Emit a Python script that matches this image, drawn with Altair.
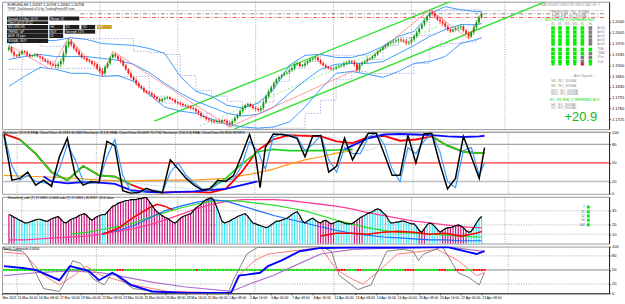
import json
import altair as alt
import pandas as pd

FONT = "Liberation Sans"
W = 610
XMIN, XMAX = -0.75, 229.18

# ===================== DATA =====================
# EURUSD H4 closes, bar 0 = 12 Mar 04:00 ... bar 182 = 23 Apr 12:00
first_open = 1.1950
close = [
    1.1958, 1.1942, 1.1932, 1.1929, 1.1938, 1.1945, 1.1942, 1.1935, 1.1929, 1.1932,
    1.1935, 1.1929, 1.1925, 1.1919, 1.1913, 1.1909, 1.1903, 1.1900, 1.1897, 1.1903,
    1.1913, 1.1938, 1.1964, 1.1977, 1.1967, 1.1954, 1.1945, 1.1935, 1.1925, 1.1922,
    1.1916, 1.1913, 1.1906, 1.1903, 1.1890, 1.1881, 1.1874, 1.1894, 1.1906, 1.1925,
    1.1935, 1.1929, 1.1919, 1.1913, 1.1900, 1.1887, 1.1874, 1.1861, 1.1852, 1.1842,
    1.1832, 1.1826, 1.1816, 1.1813, 1.1810, 1.1803, 1.1797, 1.1791, 1.1784, 1.1791,
    1.1794, 1.1797, 1.1791, 1.1788, 1.1781, 1.1778, 1.1775, 1.1771, 1.1768, 1.1765,
    1.1762, 1.1759, 1.1752, 1.1746, 1.1736, 1.1733, 1.1726, 1.1723, 1.1720, 1.1717,
    1.1720, 1.1717, 1.1723, 1.1720, 1.1714, 1.1710, 1.1720, 1.1730, 1.1739, 1.1752,
    1.1762, 1.1771, 1.1775, 1.1768, 1.1762, 1.1759, 1.1755, 1.1762, 1.1781, 1.1800,
    1.1816, 1.1829, 1.1842, 1.1855, 1.1861, 1.1868, 1.1874, 1.1877, 1.1884, 1.1890,
    1.1903, 1.1906, 1.1897, 1.1900, 1.1906, 1.1913, 1.1919, 1.1922, 1.1925, 1.1916,
    1.1906, 1.1900, 1.1894, 1.1890, 1.1887, 1.1890, 1.1894, 1.1897, 1.1900, 1.1906,
    1.1909, 1.1913, 1.1909, 1.1903, 1.1884, 1.1903, 1.1909, 1.1913, 1.1919, 1.1922,
    1.1929, 1.1935, 1.1945, 1.1951, 1.1958, 1.1964, 1.1971, 1.1974, 1.1977, 1.1980,
    1.1983, 1.1980, 1.1977, 1.1971, 1.1974, 1.1983, 1.1993, 1.2006, 1.2019, 1.2031,
    1.2044, 1.2057, 1.2070, 1.2067, 1.2057, 1.2047, 1.2041, 1.2035, 1.2025, 1.2015,
    1.2009, 1.2015, 1.2019, 1.2022, 1.2025, 1.2012, 1.2003, 1.1993, 1.2006, 1.2022,
    1.2038, 1.2054, 1.2067,
]
wick_pips = [
    6, 5, 7, 4, 6, 5, 4, 6, 5, 3, 5, 4, 6, 5, 4, 7, 5, 4, 6, 8,
    9, 10, 12, 9, 7, 6, 5, 6, 4, 5, 6, 5, 4, 7, 6, 8, 9, 7, 6, 5,
    4, 6, 5, 7, 6, 5, 4, 6, 5, 7, 5, 4, 6, 5, 4, 5, 6, 4, 5, 6,
    4, 5, 3, 4, 5, 4, 6, 5, 4, 5, 6, 4, 5, 6, 5, 4, 5, 6, 4, 5,
    4, 6, 5, 4, 7, 8, 6, 7, 5, 6, 7, 5, 6, 4, 5, 6, 5, 7, 8, 6,
    7, 6, 5, 4, 6, 5, 4, 5, 6, 5, 7, 6, 5, 4, 6, 5, 4, 5, 6, 5,
    4, 5, 6, 4, 5, 4, 6, 5, 4, 7, 5, 6, 4, 8, 6, 5, 4, 5, 6, 4,
    5, 6, 5, 4, 5, 6, 4, 5, 6, 5, 4, 6, 5, 7, 6, 8, 7, 6, 5, 4,
    6, 5, 4, 7, 6, 5, 8, 9, 7, 6, 5, 4, 6, 7, 8, 6, 5, 7, 6, 8,
    7, 6, 5,
]

price_ticks = [1.2040, 1.2005, 1.1970, 1.1935, 1.1900, 1.1865, 1.1830, 1.1795, 1.1760, 1.1725]
week_lines = [5, 35, 65, 95, 125, 155, 191]
xlab_pos = [-0.75, 5, 13, 21, 29, 37, 45, 53, 61, 69, 77, 85, 93, 101, 109, 117,
            125, 133, 141, 149, 157, 165, 173, 181]
xlab_txt = ["Mar 2021", "15 Mar 00:00", "16 Mar 08:00", "17 Mar 16:00", "19 Mar 00:00",
            "22 Mar 08:00", "23 Mar 16:00", "25 Mar 00:00", "26 Mar 08:00", "29 Mar 16:00",
            "31 Mar 00:00", "1 Apr 08:00", "2 Apr 16:00", "6 Apr 00:00", "7 Apr 08:00",
            "8 Apr 16:00", "12 Apr 00:00", "13 Apr 08:00", "14 Apr 16:00", "16 Apr 00:00",
            "19 Apr 08:00", "20 Apr 16:00", "22 Apr 00:00", "23 Apr 08:00"]

s6 = [0, 6, 12, 18, 24, 30, 36, 42, 48, 54, 60, 66, 72, 78, 84, 90, 96, 102, 108, 114,
      120, 126, 132, 138, 144, 150, 156, 162, 168, 174, 180, 182]
s3 = [0, 3, 6, 9, 12, 15, 18, 21, 24, 27, 30, 33, 36, 39, 42, 45, 48, 51, 54, 57,
      60, 63, 66, 69, 72, 75, 78, 81, 84, 87, 90, 93, 96, 99, 102, 105, 108, 111, 114, 117,
      120, 123, 126, 129, 132, 135, 138, 141, 144, 147, 150, 153, 156, 159, 162, 165, 168, 171, 174, 177,
      180, 182]

bb_up = [1.1970, 1.1977, 1.1980, 1.1980, 1.1989, 1.1983, 1.1970, 1.1967, 1.1964, 1.1954,
         1.1938, 1.1864, 1.1816, 1.1800, 1.1771, 1.1762, 1.1778, 1.1823, 1.1900, 1.1932,
         1.1935, 1.1925, 1.1925, 1.1938, 1.1961, 1.1993, 1.2009, 1.2066, 1.2089, 1.2079,
         1.2073, 1.2073]
bb_mid = [1.1919, 1.1928, 1.1935, 1.1928, 1.1928, 1.1928, 1.1922, 1.1916, 1.1903, 1.1877,
          1.1842, 1.1810, 1.1784, 1.1765, 1.1745, 1.1736, 1.1742, 1.1765, 1.1810, 1.1851,
          1.1887, 1.1903, 1.1906, 1.1906, 1.1912, 1.1938, 1.1964, 1.1993, 1.2015, 1.2031,
          1.2031, 1.2034]
bb_low = [1.1832, 1.1864, 1.1893, 1.1887, 1.1874, 1.1874, 1.1864, 1.1867, 1.1848, 1.1806,
          1.1765, 1.1752, 1.1745, 1.1726, 1.1710, 1.1701, 1.1697, 1.1701, 1.1717, 1.1765,
          1.1823, 1.1874, 1.1880, 1.1871, 1.1861, 1.1880, 1.1906, 1.1912, 1.1928, 1.1970,
          1.1983, 1.1989]
dc_up = [1.1983, 1.1977, 1.1961, 1.1961, 1.1986, 1.1986, 1.1986, 1.1986, 1.1945, 1.1941,
         1.1935, 1.1867, 1.1819, 1.1800, 1.1784, 1.1768, 1.1781, 1.1848, 1.1890, 1.1912,
         1.1932, 1.1932, 1.1932, 1.1919, 1.1964, 1.1989, 1.1996, 1.2076, 1.2079, 1.2079,
         1.2079, 1.2079]
dc_low = [1.1887, 1.1887, 1.1912, 1.1890, 1.1890, 1.1890, 1.1864, 1.1864, 1.1864, 1.1800,
          1.1778, 1.1768, 1.1745, 1.1713, 1.1701, 1.1697, 1.1697, 1.1697, 1.1697, 1.1745,
          1.1787, 1.1855, 1.1880, 1.1874, 1.1874, 1.1874, 1.1906, 1.1961, 1.1970, 1.1975,
          1.1985, 1.1985]
zz_i = [0, 16, 23, 36, 40, 85, 134, 162, 177, 182]
zz_p = [1.1964, 1.1887, 1.1989, 1.1867, 1.1945, 1.1701, 1.1887, 1.2079, 1.1986, 1.2070]
# channel lines: upper, lower, middle (start bar, start price, end bar, end price)
ch_i0 = [56, 86.7, 73.5]
ch_p0 = [1.1720, 1.1694, 1.1704]
ch_i1 = [170, 206.6, 165.1]
ch_p1 = [1.2105, 1.2105, 1.2025]
level_p = [1.2076, 1.2066, 1.2054]
level_from = [-0.75, 27.5, 27.5]

# Stochastic panel (0-100)
black_i = [0, 3, 6, 9, 12, 15, 18, 21, 24, 27, 30, 33, 36, 39, 42, 45, 48, 51, 54, 57,
           60, 63, 66, 69, 72, 75, 78, 81, 84, 87, 90, 93, 95, 97, 99, 102, 105, 108, 111, 114,
           117, 120, 123, 126, 129, 132, 135, 138, 141, 144, 147, 150, 153, 156, 159, 162, 165, 168, 171, 174,
           177, 180, 182]
black_v = [96, 22, 25, 35, 14, 22, 12, 60, 90, 30, 14, 20, 18, 85, 78, 5, 1, 2, 9, 4,
           2, 55, 40, 25, 14, 6, 8, 22, 20, 30, 62, 96, 70, 10, 75, 97, 96, 94, 90, 60,
           94, 94, 35, 45, 90, 55, 78, 98, 98, 65, 30, 30, 95, 50, 97, 98, 50, 8, 25, 93,
           60, 25, 75]
lblue_v = [98, 45, 22, 30, 20, 18, 15, 40, 80, 55, 20, 17, 20, 60, 88, 30, 4, 2, 6, 6,
           3, 35, 50, 30, 18, 8, 6, 16, 22, 24, 45, 85, 70, 40, 92, 97, 95, 92, 70, 80,
           95, 55, 35, 75, 65, 65, 92, 98, 80, 40, 20, 75, 65, 85, 97, 70, 20, 10, 70, 75,
           30, 50]
slow_v = [97, 88, 65, 35, 22, 45, 30, 28, 15, 5, 2, 3, 3, 2, 8, 35, 70, 88, 95, 94,
          93, 85, 82, 92, 94, 86, 88, 93, 78, 68, 66, 66]
blueA_i = [15, 18, 24, 30, 36, 42, 48, 54, 60, 66, 72, 78, 84, 90, 96]
blueA_v = [28, 20, 17, 19, 18, 16, 6, 3, 2, 3, 4, 6, 8, 14, 20]
greenB_i = [78, 84, 90, 96, 102, 108, 114, 120, 126, 132]
greenB_v = [10, 25, 48, 68, 72, 70, 70, 70, 71, 72]
blueC_i = [129, 132, 138, 144, 150, 156, 162, 168, 174, 180, 182]
blueC_v = [72, 78, 90, 96, 97, 96, 95, 93, 92, 93, 94]
orange_i = [0, 12, 24, 36, 48, 60, 72, 84, 96, 102, 108, 114, 120, 126, 132]
orange_v = [30, 28, 26, 22, 21, 22, 22, 25, 34, 40, 48, 55, 60, 66, 70]
dotted_v = [98, 88, 65, 40, 20, 22, 25, 20, 18, 15, 12, 10, 8, 6, 10, 30, 55, 82, 92, 96,
            94, 90, 72, 70, 80, 92, 95, 92, 85, 78, 68, 65]

# ADX histogram panel
hist_v = [31, 30, 28, 27, 25, 24, 22, 22, 23, 24, 25, 26, 26, 25, 24, 24, 26, 27, 28, 29,
          26, 23, 22, 24, 26, 27, 28, 30, 31, 32, 30, 27, 25, 27, 29, 30, 31, 31, 34, 37,
          40, 41, 43, 44, 45, 46, 46, 47, 47, 47, 48, 48, 49, 49, 45, 41, 37, 34, 32, 30,
          28, 27, 25, 23, 22, 24, 27, 29, 30, 31, 32, 35, 38, 40, 42, 45, 47, 48, 49, 46,
          39, 32, 24, 22, 23, 24, 26, 27, 29, 30, 31, 32, 29, 25, 22, 21, 20, 19, 18, 17,
          18, 20, 22, 24, 24, 25, 26, 27, 29, 31, 33, 34, 30, 24, 22, 24, 26, 27, 25, 23,
          22, 24, 25, 23, 21, 22, 23, 24, 23, 22, 21, 21, 21, 23, 25, 27, 29, 30, 32, 33,
          34, 36, 37, 36, 33, 31, 26, 22, 22, 23, 23, 24, 24, 23, 22, 21, 21, 18, 14, 12,
          16, 20, 22, 21, 18, 15, 12, 14, 16, 17, 17, 18, 19, 20, 19, 17, 14, 12, 13, 17,
          22, 26, 29]
hist_runs = [(3, "m"), (13, "c"), (20, "m"), (2, "c"), (42, "m"), (39, "c"), (7, "m"),
             (7, "c"), (4, "m"), (21, "c"), (3, "m"), (6, "c"), (10, "m"), (6, "c")]
pink3_v = [4, 4, 5, 6, 7, 8, 10, 13, 16, 20, 25, 31, 37, 42, 45, 47, 47, 47, 46, 44,
           42, 40, 37, 33, 30, 27, 24, 22, 20, 18, 17, 17]
green3_v = [10, 12, 15, 18, 22, 28, 33, 38, 42, 45, 46, 45, 43, 41, 38, 35, 30, 25, 21, 17,
            14, 12, 11, 10, 9, 8, 7, 7]
blue3_v = [11, 14, 19, 27, 35, 40, 44, 47, 45, 40, 35, 30, 26, 22, 18, 14, 11, 9, 7, 6,
           5, 4, 4, 3, 3, 3]
red3a_i = [36, 39, 42, 45, 48, 51, 54, 57, 60, 63]
red3a_v = [10, 13, 16, 22, 28, 33, 38, 42, 40, 36]
red3b_i = [120, 126, 132, 138, 144, 150, 156, 162, 168, 174, 180, 182]
red3b_v = [8, 11, 11, 10, 12, 13, 12, 10, 11, 8, 11, 13]
legend3_txt = ["7", "21", "52", "50", "144"]

# bottom oscillator panel (0-100)
blue4_i = [0, 7, 12, 21, 25, 32, 36, 41, 43, 48, 56, 70, 86, 89, 92, 97, 100, 105, 112, 120,
           132, 155, 168, 176, 179, 182]
blue4_v = [58, 54, 50, 28, 58, 48, 28, 44, 38, 18, 4, 1, 1, 38, 40, 44, 58, 70, 90, 97,
           98, 98, 99, 88, 84, 90]
grey4_i = [0, 7, 9, 15, 21, 23, 26, 29, 34, 38, 41, 44, 49, 62, 85, 87, 92, 96, 120, 124,
           127, 134, 139, 145, 151, 155, 157, 159, 166, 172, 176, 180, 182]
grey4_v = [94, 90, 78, 10, 4, 24, 70, 64, 30, 18, 44, 30, 10, 1, 1, 30, 84, 98, 100, 90,
           38, 8, 18, 90, 94, 90, 70, 84, 100, 44, 34, 18, 44]
pink4_i = [0, 8, 14, 18, 21, 27, 31, 37, 42, 49, 62, 86, 90, 95, 100, 120, 126, 132, 136, 142,
           149, 156, 164, 172, 179, 182]
pink4_v = [88, 84, 44, 28, 18, 40, 58, 38, 30, 18, 4, 1, 44, 70, 84, 98, 50, 30, 20, 48,
           84, 88, 94, 70, 38, 44]
purple4_i = [0, 12, 25, 37, 43, 56, 68, 86, 93, 102, 112, 120, 132, 155, 170, 181, 182]
purple4_v = [38, 44, 48, 44, 38, 24, 14, 4, 20, 38, 64, 84, 94, 98, 98, 90, 90]
marker_red = [(43, 45), (73, 73), (126, 129), (134, 135), (152, 155), (165, 167), (171, 174), (178, 182)]

# dashboard content
dash_state = ["GGGGGX", "GGGGGX", "GGGGGX", "GGGGGX", "GGGGGX", "GGGGGG", "GGGGGX", "GGGGXX", "GGGGXG"]
dash_dots = "GGGGRG"
dash_row_lbl = ["AwS5", "AwS1", "AwS2", "AwS3", "AwS4", "TMA", "TMA2", "LPwr", "Trnd"]
dash_hdr = ["M1", "M5", "M15", "M30", "H1", "H4"]
box_text = ["Spread: 0.3  Bar: 03:22", "Range: 62", "Time Left 01:37:22", "M15  M30  H1",
            "H4", "D1", "W1", "MN", "TREND: UP", "BUY", "Strength 72%", "ADR: 78 pips", "62",
            "SIGNAL: BUY"]

# ===================== CHART =====================
xs = alt.Scale(domain=[XMIN, XMAX], nice=False, zero=False)


def X(f):
    return alt.X(f"{f}:Q", scale=xs, axis=None)


label_expr = f"{json.dumps(xlab_txt)}[indexof({json.dumps(xlab_pos)}, datum.value)]"
x_axis = alt.Axis(values=xlab_pos, labelExpr=label_expr, labelAlign="left", labelFontSize=3.4,
                  tickSize=1.5, labelPadding=0.5, labelOverlap=False, labelFlush=False,
                  grid=False, title=None)


def XB(f):
    return alt.X(f"{f}:Q", scale=xs, axis=x_axis)


def make_y(domain, values, fmt):
    sc = alt.Scale(domain=domain, nice=False, zero=False)
    ax = alt.Axis(orient="right", values=values, format=fmt, title=None, grid=False)

    def Y(f):
        return alt.Y(f"{f}:Q", scale=sc, axis=ax)
    return Y


YM = make_y([1.1694, 1.2105], price_ticks, ".4f")
YS = make_y([0, 100], [100, 80, 50, 20, 0], "d")
YH = make_y([0, 50], [35, 20, 10], "d")
YB = make_y([0, 100], [100, 80, 50, 20, 0], "d")


def vgrid(Xf):
    return alt.Chart(pd.DataFrame({"i": week_lines})).mark_rule(
        color="#6e6e6e", strokeWidth=0.6, strokeDash=[1, 1.5]).encode(x=Xf("i"))


def line_layer(ix, vals, Xf, Yf, color, width, dash=None, interp=None):
    kw = dict(color=color, strokeWidth=width, clip=True)
    if dash is not None:
        kw["strokeDash"] = dash
    if interp is not None:
        kw["interpolate"] = interp
    return alt.Chart(pd.DataFrame({"i": ix, "v": vals})).mark_line(**kw).encode(x=Xf("i"), y=Yf("v"))


def text_layer(rows, Xf, Yf, align, baseline="middle"):
    df = pd.DataFrame(rows, columns=["t", "i", "v", "col", "fs"])
    return alt.Chart(df).mark_text(align=align, baseline=baseline, font=FONT).encode(
        x=Xf("i"), y=Yf("v"), text=alt.Text("t:N"),
        color=alt.Color("col:N", scale=None), size=alt.Size("fs:Q", scale=None))


def hrule(vals, Yf, color, width, dash=None):
    kw = dict(color=color, strokeWidth=width)
    if dash is not None:
        kw["strokeDash"] = dash
    return alt.Chart(pd.DataFrame({"v": vals})).mark_rule(**kw).encode(y=Yf("v"))


# ---------- main price panel ----------
rows = []
prev = first_open
for i, (c, w) in enumerate(zip(close, wick_pips)):
    o = prev
    rows.append({"i": i, "o": o, "c": c, "hi": max(o, c) + w * 1e-4, "lo": min(o, c) - w * 1e-4,
                 "col": "#109a10" if c >= o else "#ff1212"})
    prev = c
cdf = pd.DataFrame(rows)

M = [vgrid(X)]
level_style = [("#cfcfcf", None), ("#6a6a6a", [4, 2, 1, 2]), ("#ff3030", [4, 2, 1, 2])]
for p, a, (col, dash) in zip(level_p, level_from, level_style):
    kw = dict(color=col, strokeWidth=0.8)
    if dash:
        kw["strokeDash"] = dash
    M.append(alt.Chart(pd.DataFrame({"a": [a], "b": [XMAX], "p": [p]})).mark_rule(**kw).encode(
        x=X("a"), x2=alt.X2("b"), y=YM("p")))
ch_style = [("#2ee02e", 1.3, None), ("#2ee02e", 1.3, None), ("#90ee90", 1.0, [2, 2])]
for a, pa, b, pb, (col, wd, dash) in zip(ch_i0, ch_p0, ch_i1, ch_p1, ch_style):
    M.append(line_layer([a, b], [pa, pb], X, YM, col, wd, dash))
M.append(line_layer(s6, dc_up, X, YM, "#9c9cdc", 0.8, [1.5, 1.5], "step-after"))
M.append(line_layer(s6, dc_low, X, YM, "#9c9cdc", 0.8, [1.5, 1.5], "step-after"))
for band in (bb_up, bb_mid, bb_low):
    M.append(line_layer(s6, band, X, YM, "#3896ff", 0.95))
M.append(line_layer(zz_i, zz_p, X, YM, "#ff7070", 0.7))
M.append(alt.Chart(cdf).mark_rule(strokeWidth=0.7).encode(
    x=X("i"), y=YM("lo"), y2=alt.Y2("hi"), color=alt.Color("col:N", scale=None)))
M.append(alt.Chart(cdf).mark_bar(size=1.8).encode(
    x=X("i"), y=YM("o"), y2=alt.Y2("c"), color=alt.Color("col:N", scale=None)))

# info boxes top-left
bx0 = [-0.75, 15.6, -0.75, -0.75, 15.6, 21.5, 27.9, 33.9, -0.75, 15.6, 21.5, -0.75, 15.6, -0.75]
bx1 = [15.1, 27.1, 15.1, 15.1, 20.9, 27.1, 33.2, 39.6, 15.1, 20.9, 33.2, 15.1, 20.9, 15.1]
bpt = [1.2057, 1.2057, 1.2042, 1.2030, 1.2030, 1.2030, 1.2030, 1.2030, 1.2015, 1.2015, 1.2015, 1.2001, 1.2001, 1.1986]
bpb = [1.2044, 1.2044, 1.2033, 1.2017, 1.2017, 1.2017, 1.2017, 1.2017, 1.2002, 1.2002, 1.2002, 1.1988, 1.1988, 1.1972]
bfill = ["#c9a227" if k == 7 else "#1e1e1e" for k in range(len(box_text))]
bdf = pd.DataFrame({"a": bx0, "b": bx1, "t": bpt, "u": bpb, "f": bfill})
M.append(alt.Chart(bdf).mark_rect().encode(x=X("a"), x2=alt.X2("b"), y=YM("t"), y2=alt.Y2("u"),
                                          color=alt.Color("f:N", scale=None)))
M.append(text_layer([(t, a + 0.4, (p + q) / 2, "#e8e8e8", 3.0) for t, a, p, q in zip(box_text, bx0, bpt, bpb)],
                    X, YM, "left"))
M.append(text_layer([("EURUSD,H4  1.20597 1.20758 1.20562 1.20758", -0.5, 1.2095, "#000000", 3.6),
                     ("TFSP_Dashboard v2.0  by TradingForexSP.com", -0.5, 1.2081, "#303030", 3.2)],
                    X, YM, "left"))

# dashboard (right side)
dash_cols = [209.5, 212.2, 215.1, 217.9, 220.8, 223.9]
dash_rows = [1.2020, 1.2007, 1.1994, 1.1981, 1.1969, 1.1951, 1.1938, 1.1925, 1.1912]
cmap = {"G": "#00ee00", "X": "#7d7d7d", "R": "#ff0000"}
sq = []
for p, st in zip(dash_rows, dash_state):
    for ci, s in zip(dash_cols, st):
        sq.append({"i": ci, "p": p, "col": cmap[s]})
M.append(alt.Chart(pd.DataFrame(sq)).mark_square(size=13, opacity=1).encode(
    x=X("i"), y=YM("p"), color=alt.Color("col:N", scale=None)))
dots = [{"i": ci, "p": 1.1903, "col": cmap[s]} for ci, s in zip(dash_cols, dash_dots)]
M.append(alt.Chart(pd.DataFrame(dots)).mark_circle(size=9, opacity=1).encode(
    x=X("i"), y=YM("p"), color=alt.Color("col:N", scale=None)))
M.append(text_layer([(t, 226.5, p, "#8a8a8a", 3.0) for t, p in zip(dash_row_lbl, dash_rows)], X, YM, "left"))
M.append(text_layer([(t, ci, 1.2034, "#8a8a8a", 2.6) for t, ci in zip(dash_hdr, dash_cols)], X, YM, "center"))
grey = "#8e8e8e"
green = "#00d800"
M.append(text_layer([("TRADINGFOREXSP INDICATOR \u00ae", 227.7, 1.2091, "#9a9a9a", 3.9),
                     ("+20.9", 226.5, 1.1720, "#18b418", 13)], X, YM, "right", "alphabetic"))
M.append(text_layer([("TRENDLINE : NO_SIGNAL", 216.0, 1.2071, grey, 3.3),
                     ("REDLINE : NO_SIGNAL", 216.0, 1.2058, grey, 3.3),
                     ("M15 FILTER_CONFIRMED BUY", 216.0, 1.2046, green, 3.5)], X, YM, "center"))
M.append(text_layer([("-- Alert Signals --", 216.5, 1.1864, grey, 3.3),
                     ("M1 : NO_SIGNAL", 208.8, 1.1848, grey, 3.3),
                     ("M5 : NO_SIGNAL", 208.8, 1.1832, grey, 3.3),
                     ("M15 : NO_SIGNAL", 208.8, 1.1818, grey, 3.3),
                     ("M30 : NO_SIGNAL", 208.8, 1.1806, grey, 3.3),
                     ("H1 : FILTER_CONFIRMED BUY", 208.3, 1.1789, green, 3.5),
                     ("H4 : NO_SIGNAL", 208.8, 1.1773, grey, 3.3),
                     ("D1 : NO_SIGNAL", 208.8, 1.1761, grey, 3.3)], X, YM, "left"))
main = alt.layer(*M).properties(width=W, height=128)

# ---------- stochastic panel ----------
S = [vgrid(X),
     hrule([100, 80], YS, "#a8a8a8", 1.2),
     hrule([20], YS, "#bdbdbd", 1.6),
     hrule([50], YS, "#ff0000", 1.0)]
S.append(line_layer(s6, dotted_v, X, YS, "#a9cdf5", 1.0, [1.5, 1.5]))
S.append(line_layer(orange_i, orange_v, X, YS, "#ff9a1a", 1.2))
S.append(line_layer(s6, slow_v, X, YS, "#ff0000", 1.8))
g1 = [(i, v) for i, v in zip(s6, slow_v) if 6 <= i <= 48]
g2 = [(i, v) for i, v in zip(s6, slow_v) if i >= 162]
S.append(line_layer([a for a, _ in g1], [b for _, b in g1], X, YS, "#20d020", 1.8))
S.append(line_layer([a for a, _ in g2], [b for _, b in g2], X, YS, "#20d020", 1.8))
S.append(line_layer(blueA_i, blueA_v, X, YS, "#0a0aff", 1.8))
S.append(line_layer(greenB_i, greenB_v, X, YS, "#20d020", 1.6))
S.append(line_layer(blueC_i, blueC_v, X, YS, "#0a0aff", 1.9))
S.append(line_layer(s3, lblue_v, X, YS, "#3a9cff", 1.2))
S.append(line_layer(black_i, black_v, X, YS, "#000000", 1.5))
S.append(text_layer([("Stochastic (21,3,3) EMA, Close/Close 45.2183 40.2684    Stochastic (8,3,3) EMA, "
                      "Close/Close 65.4459 75.2742    Stochastic (100,3,3) EMA, Close/Close 90.8920 88.9874",
                      -0.5, 98.3, "#000000", 3.3)], X, YS, "left"))
stoch = alt.layer(*S).properties(width=W, height=62)

# ---------- ADX histogram panel ----------
hcol = []
for n, k in hist_runs:
    hcol += [k] * n
hdf = pd.DataFrame({"i": list(range(len(hist_v))), "v": hist_v,
                    "col": ["#c8157f" if k == "m" else "#3ee6f2" for k in hcol]})
H = [vgrid(X), hrule([35, 20, 10], YH, "#7a7a7a", 0.6, [1, 1.5])]
H.append(alt.Chart(hdf).mark_bar(size=1.2).encode(x=X("i"), y=YH("v"), color=alt.Color("col:N", scale=None)))
H.append(line_layer(s6, pink3_v, X, YH, "#ff3d9a", 1.3))
H.append(line_layer(s6[4:], green3_v, X, YH, "#25dd25", 1.2))
H.append(line_layer(s6[6:], blue3_v, X, YH, "#1e6cff", 1.2))
H.append(line_layer(red3a_i, red3a_v, X, YH, "#ff0000", 1.6))
H.append(line_layer(red3b_i, red3b_v, X, YH, "#ff0000", 1.6))
H.append(line_layer(list(range(len(hist_v))), hist_v, X, YH, "#000000", 1.2))
leg_v = [39, 34, 29.5, 25, 20]
H.append(alt.Chart(pd.DataFrame({"i": [223.1] * 5, "v": leg_v})).mark_square(
    size=9, color="#00ee00", opacity=1).encode(x=X("i"), y=YH("v")))
H.append(text_layer([(t, 221.7, v, "#505050", 3.0) for t, v in zip(legend3_txt, leg_v)], X, YH, "right"))
H.append(text_layer([("Smoothed_adx (7) 17.0963 -0.0000  adx (7) 17.0963 +30.8957 -20.6 data",
                      -0.5, 48.4, "#000000", 3.3)], X, YH, "left"))
hist = alt.layer(*H).properties(width=W, height=47)

# ---------- bottom oscillator panel ----------
mk = []
for i in range(len(close)):
    red = any(a <= i <= b for a, b in marker_red)
    mk.append({"i": i, "v": 50, "col": "#ff0000" if red else "#00e600"})
B = [vgrid(XB), hrule([50], YB, "#bdbdbd", 1.8), hrule([80, 20], YB, "#6e6e6e", 0.6, [1, 1.5])]
B.append(alt.Chart(pd.DataFrame(mk)).mark_square(size=4, opacity=1).encode(
    x=XB("i"), y=YB("v"), color=alt.Color("col:N", scale=None)))
B.append(line_layer(purple4_i, purple4_v, XB, YB, "#b070d0", 1.2))
B.append(line_layer(pink4_i, pink4_v, XB, YB, "#ff7a7a", 1.0))
B.append(line_layer(grey4_i, grey4_v, XB, YB, "#808080", 1.0))
B.append(line_layer(blue4_i, blue4_v, XB, YB, "#0000ff", 1.9))
B.append(text_layer([("Stoch_Composite 0.0000", -0.5, 95, "#000000", 3.3)], XB, YB, "left"))
bottom = alt.layer(*B).properties(width=W, height=47)

chart = (
    alt.vconcat(main, stoch, hist, bottom, spacing=3, bounds="flush")
    .properties(padding=0)
    .configure(font=FONT, background="white")
    .configure_view(stroke="#9a9a9a", strokeWidth=1)
    .configure_axis(labelFont=FONT, labelFontSize=4, labelColor="#000000", tickColor="#000000",
                    domainColor="#000000", tickSize=1.5, labelPadding=1, domainWidth=0.8,
                    tickWidth=0.6)
)
chart.save("out.html", embed_options={"renderer": "svg", "actions": False})
